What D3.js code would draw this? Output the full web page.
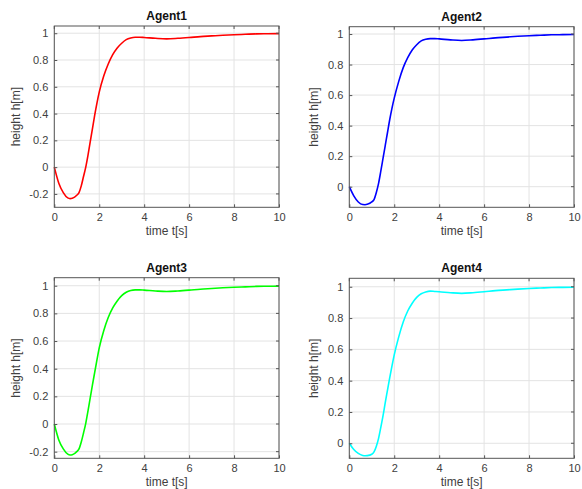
<!DOCTYPE html>
<html><head><meta charset="utf-8">
<script src="https://cdn.jsdelivr.net/npm/d3@7"></script>
<style>
body{margin:0;background:#fff;}
svg{display:block;font-family:"Liberation Sans",Arial,sans-serif;}
</style></head>
<body>
<script>
const time = [0,0.2,0.4,0.6,0.7,0.8,1.0,1.1,1.2,1.3,1.4,1.5,1.6,1.7,1.8,1.9,2.0,2.2,2.4,2.6,2.8,3.0,3.2,3.4,3.6,3.8,4.0,4.5,5.0,5.5,6.0,6.5,7,7.5,8,8.5,9,9.5,10];
const tail = [0.970,0.968,0.962,0.958,0.962,0.968,0.975,0.980,0.985,0.989,0.992,0.995,0.996,0.997];
const agent1 = [0,-0.12,-0.19,-0.23,-0.235,-0.232,-0.21,-0.19,-0.14,-0.07,0.0,0.09,0.19,0.29,0.39,0.48,0.56,0.68,0.77,0.84,0.89,0.925,0.952,0.965,0.970].concat(tail);
const agent2 = [0,-0.06,-0.10,-0.117,-0.118,-0.115,-0.10,-0.085,-0.04,0.02,0.10,0.185,0.27,0.355,0.44,0.515,0.58,0.69,0.78,0.845,0.895,0.93,0.955,0.966,0.970].concat(tail);
const agent3 = [0,-0.115,-0.18,-0.218,-0.224,-0.222,-0.20,-0.18,-0.13,-0.065,0.005,0.095,0.19,0.285,0.375,0.465,0.55,0.675,0.77,0.84,0.89,0.928,0.953,0.966,0.970].concat(tail);
const agent4 = [0,-0.04,-0.065,-0.078,-0.08,-0.079,-0.07,-0.055,-0.02,0.03,0.10,0.175,0.26,0.34,0.42,0.495,0.565,0.68,0.775,0.845,0.895,0.932,0.955,0.967,0.972].concat(tail);
const titles = ["Agent1","Agent2","Agent3","Agent4"];
const colors = ["#ff0000","#0000ff","#00ff00","#00ffff"];
const xTicks = [0,2,4,6,8,10];
const yTicksA = [-0.2,0,0.2,0.4,0.6,0.8,1];
const yTicksB = [0,0.2,0.4,0.6,0.8,1];
const yDomains = [[-0.3,1.054],[-0.135,1.048],[-0.248,1.058],[-0.096,1.054]];
const series = [agent1,agent2,agent3,agent4];
const yTicksList = [yTicksA,yTicksB,yTicksA,yTicksB];

const boxes = [
  {l:54.3,r:279,t:26,b:207.3},
  {l:349.3,r:574,t:26.7,b:207.3},
  {l:54.3,r:279,t:277.7,b:458.3},
  {l:349.3,r:574,t:278.3,b:458.3}
];

const svg = d3.select("body").append("svg").attr("width",582).attr("height",489);
const txt = "#404040";

series.forEach((vals,i)=>{
  const bx = boxes[i];
  const x = d3.scaleLinear().domain([0,10]).range([bx.l,bx.r]);
  const y = d3.scaleLinear().domain(yDomains[i]).range([bx.b,bx.t]);
  const g = svg.append("g");
  g.append("rect").attr("x",bx.l).attr("y",bx.t).attr("width",bx.r-bx.l).attr("height",bx.b-bx.t).attr("fill","#fff");
  // grid
  g.selectAll(".gx").data(xTicks).enter().append("line")
    .attr("x1",d=>x(d)).attr("x2",d=>x(d)).attr("y1",bx.t).attr("y2",bx.b)
    .attr("stroke","#e3e3e3").attr("stroke-width",1);
  g.selectAll(".gy").data(yTicksList[i]).enter().append("line")
    .attr("x1",bx.l).attr("x2",bx.r).attr("y1",d=>y(d)).attr("y2",d=>y(d))
    .attr("stroke","#e3e3e3").attr("stroke-width",1);
  // line
  const line = d3.line().x((d,k)=>x(time[k])).y(d=>y(d)).curve(d3.curveMonotoneX);
  g.append("path").datum(vals).attr("d",line).attr("fill","none")
    .attr("stroke",colors[i]).attr("stroke-width",1.6);
  // axes
  const xa = g.append("g").attr("transform",`translate(0,${bx.b})`)
    .call(d3.axisBottom(x).tickValues(xTicks).tickFormat(d3.format("d")).tickSizeInner(-3).tickSizeOuter(0).tickPadding(6));
  const ya = g.append("g").attr("transform",`translate(${bx.l},0)`)
    .call(d3.axisLeft(y).tickValues(yTicksList[i]).tickFormat(d=>String(Math.round(d*10)/10)).tickSizeInner(-3).tickSizeOuter(0).tickPadding(6));
  [xa,ya].forEach(a=>{
    a.select(".domain").remove();
    a.selectAll("line").attr("stroke","#555");
    a.selectAll("text").attr("fill",txt).style("font-size","11px").style("font-family","'Liberation Sans',Arial,sans-serif");
  });
  // top/right ticks
  g.selectAll(".tt").data(xTicks).enter().append("line")
    .attr("x1",d=>x(d)).attr("x2",d=>x(d)).attr("y1",bx.t).attr("y2",bx.t+3).attr("stroke","#555");
  g.selectAll(".rt").data(yTicksList[i]).enter().append("line")
    .attr("x1",bx.r).attr("x2",bx.r-3).attr("y1",d=>y(d)).attr("y2",d=>y(d)).attr("stroke","#555");
  // box
  g.append("rect").attr("x",bx.l).attr("y",bx.t).attr("width",bx.r-bx.l).attr("height",bx.b-bx.t)
    .attr("fill","none").attr("stroke","#555").attr("stroke-width",1);
  // title
  g.append("text").attr("x",(bx.l+bx.r)/2).attr("y",bx.t-6).attr("text-anchor","middle")
    .attr("font-weight","bold").attr("font-size","12px").attr("fill","#111").text(titles[i]);
  // x label
  g.append("text").attr("x",(bx.l+bx.r)/2).attr("y",bx.b+28).attr("text-anchor","middle")
    .attr("font-size","12px").attr("fill",txt).text("time t[s]");
  // y label
  const yl = i%2===0 ? bx.l-34 : bx.l-31;
  g.append("text").attr("transform",`translate(${yl},${(bx.t+bx.b)/2}) rotate(-90)`).attr("text-anchor","middle")
    .attr("font-size","12px").attr("fill",txt).text("height h[m]");
});
</script>
</body></html>
